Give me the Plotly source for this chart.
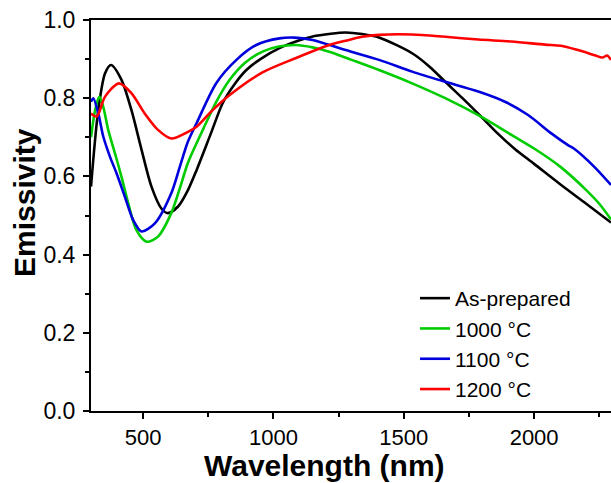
import plotly.graph_objects as go

# ---- data ----
wl_asprep = [300, 328, 354, 377, 417, 455, 494, 532, 570, 595, 634, 672, 705, 760, 805, 850, 896, 950,
             1023, 1100, 1150, 1220, 1277, 1340, 1405, 1532, 1600, 1659, 1730, 1798, 1860, 1926, 2000,
             2100, 2200, 2295]
em_asprep = [0.574, 0.77, 0.864, 0.885, 0.847, 0.77, 0.668, 0.574, 0.518, 0.506, 0.523, 0.565, 0.616,
             0.71, 0.787, 0.835, 0.872, 0.90, 0.928, 0.948, 0.958, 0.965, 0.968, 0.964, 0.955, 0.915,
             0.88, 0.842, 0.797, 0.752, 0.71, 0.67, 0.632, 0.58, 0.53, 0.482]

wl_1000 = [300, 316, 332, 347, 366, 392, 417, 443, 474, 513, 557, 608, 641, 672, 729, 780, 832, 890,
           958, 1020, 1087, 1150, 1214, 1300, 1405, 1532, 1659, 1798, 1913, 2003, 2100, 2200, 2250, 2295]
em_1000 = [0.70, 0.77, 0.804, 0.778, 0.719, 0.659, 0.599, 0.531, 0.463, 0.433, 0.446, 0.506, 0.57,
           0.635, 0.719, 0.79, 0.847, 0.89, 0.919, 0.932, 0.936, 0.93, 0.919, 0.898, 0.872, 0.838,
           0.80, 0.752, 0.706, 0.67, 0.625, 0.565, 0.53, 0.49]

wl_1100 = [300, 309, 328, 347, 373, 398, 430, 462, 494, 545, 608, 641, 672, 705, 781, 858, 934, 1023,
           1080, 1150, 1277, 1405, 1532, 1659, 1786, 1888, 1977, 2066, 2130, 2155, 2230, 2295]
em_1100 = [0.791, 0.80, 0.761, 0.702, 0.65, 0.608, 0.548, 0.488, 0.459, 0.48, 0.557, 0.625, 0.689,
           0.736, 0.839, 0.898, 0.936, 0.953, 0.955, 0.949, 0.923, 0.898, 0.868, 0.842, 0.817, 0.791,
           0.757, 0.71, 0.68, 0.67, 0.625, 0.578]

wl_1200 = [300, 322, 354, 407, 455, 506, 557, 608, 672, 705, 760, 832, 958, 1087, 1214, 1277, 1340,
           1405, 1532, 1659, 1786, 1913, 2042, 2103, 2168, 2232, 2262, 2280, 2295]
em_1200 = [0.761, 0.753, 0.804, 0.838, 0.813, 0.761, 0.719, 0.697, 0.714, 0.727, 0.765, 0.808, 0.866,
           0.903, 0.936, 0.947, 0.957, 0.962, 0.963, 0.957, 0.95, 0.945, 0.937, 0.934, 0.923, 0.91,
           0.904, 0.909, 0.898]

series_names = ["As-prepared", "1000 \u00b0C", "1100 \u00b0C", "1200 \u00b0C"]
series_colors = ["#000000", "#00cc00", "#0000dd", "#ff0000"]

x_ticks = [500, 1000, 1500, 2000]
y_ticks = [0.0, 0.2, 0.4, 0.6, 0.8, 1.0]
y_ticklabels = ["0.0", "0.2", "0.4", "0.6", "0.8", "1.0"]

FONT = "Arial, Liberation Sans, sans-serif"

fig = go.Figure()
for xs, ys, name, col in zip([wl_asprep, wl_1000, wl_1100, wl_1200],
                             [em_asprep, em_1000, em_1100, em_1200],
                             series_names, series_colors):
    fig.add_trace(go.Scatter(x=xs, y=ys, mode="lines", name=name,
                             line=dict(color=col, width=2.6, shape="spline", smoothing=0.8)))

fig.update_layout(
    width=611, height=483,
    margin=dict(l=91, r=0, t=20, b=72),
    paper_bgcolor="white", plot_bgcolor="white",
    font=dict(family=FONT, color="black"),
    showlegend=True,
    legend=dict(x=(415 - 91) / 520, y=(411 - 278) / 391, xanchor="left", yanchor="top",
                font=dict(size=21, family=FONT, color="black"),
                bgcolor="rgba(0,0,0,0)", tracegroupgap=0, itemwidth=30),
    xaxis=dict(range=[300, 2295], tickvals=x_ticks, ticks="outside", ticklen=6, tickwidth=2,
               tickcolor="black", showline=True, linecolor="black", linewidth=2, mirror=True,
               showgrid=False, zeroline=False, tickfont=dict(size=22, family=FONT, color="black"),
               minor=dict(dtick=250, tick0=250, ticks="outside", ticklen=4, tickwidth=2, tickcolor="black")),
    yaxis=dict(range=[0, 1.0], tickvals=y_ticks, ticktext=y_ticklabels, ticks="outside", ticklen=6,
               tickwidth=2, tickcolor="black", showline=True, linecolor="black", linewidth=2,
               mirror=False, showgrid=False, zeroline=False, ticklabelstandoff=3,
               tickfont=dict(size=23, family=FONT, color="black"),
               minor=dict(dtick=0.1, tick0=0.1, ticks="outside", ticklen=4, tickwidth=2, tickcolor="black")),
    annotations=[
        dict(text="Wavelength (nm)", xref="paper", yref="paper", x=(324 - 91) / 520,
             y=(411 - 465.5) / 391, xanchor="center", yanchor="middle", showarrow=False,
             font=dict(size=30, family=FONT, color="black", weight="bold")),
        dict(text="Emissivity", xref="paper", yref="paper", x=(25 - 91) / 520,
             y=(411 - 203) / 391, xanchor="center", yanchor="middle", showarrow=False,
             textangle=-90, font=dict(size=30, family=FONT, color="black", weight="bold")),
    ],
)

fig.write_html("out.html", config={"displayModeBar": False},
               post_script="document.body.style.margin='0px';document.body.style.overflow='hidden';")
